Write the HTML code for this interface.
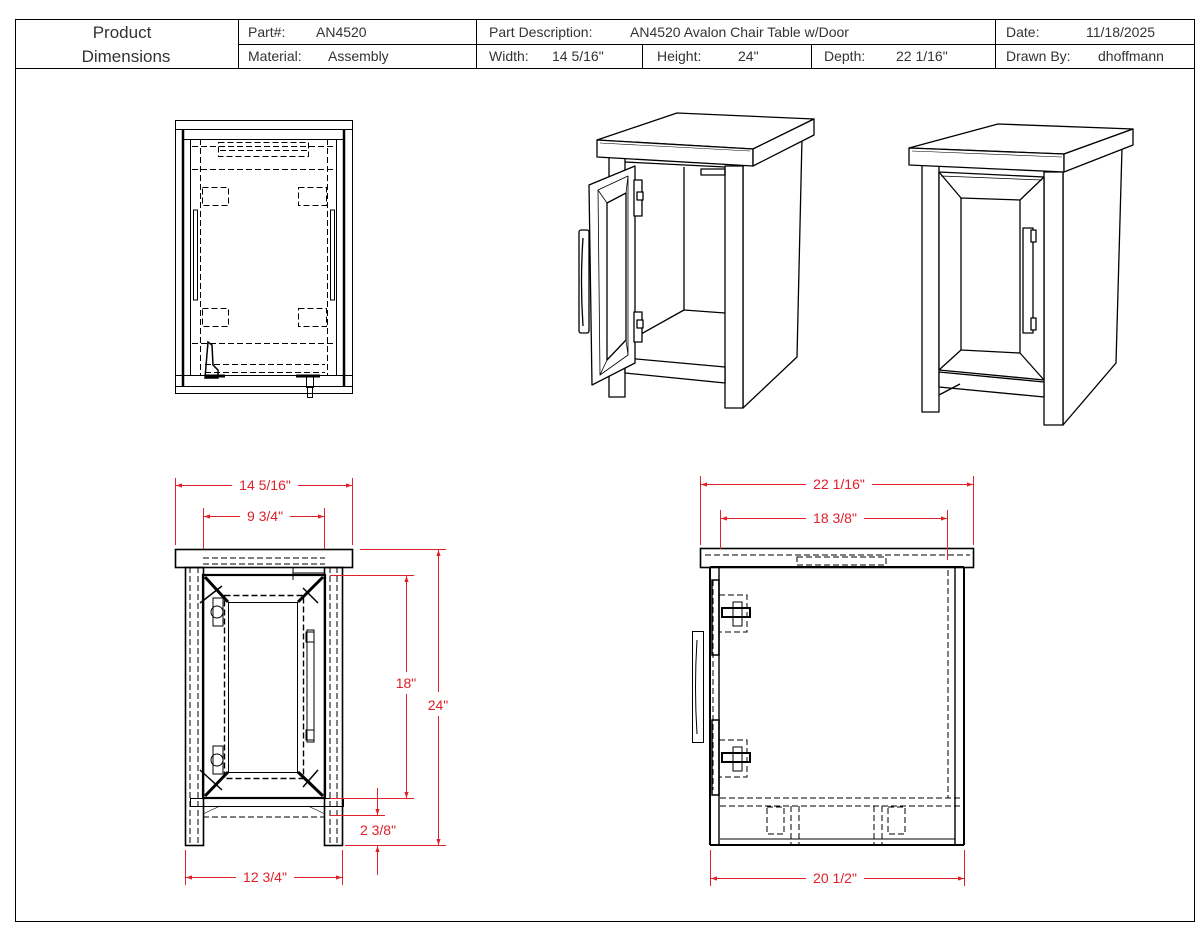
<!DOCTYPE html>
<html><head><meta charset="utf-8"><style>
html,body{margin:0;padding:0;background:#fff;}
svg{display:block;}
text{font-family:"Liberation Sans",sans-serif;}
</style></head><body>
<svg width="1204" height="934" viewBox="0 0 1204 934" xmlns="http://www.w3.org/2000/svg">
<defs>
<marker id="ar" viewBox="0 0 10 10" refX="10" refY="5" markerWidth="10" markerHeight="6" orient="auto-start-reverse" markerUnits="userSpaceOnUse"><path d="M0,1.5 L10,5 L0,8.5 z" fill="#e0202a"/></marker>
</defs>
<rect width="1204" height="934" fill="#fff"/>
<!-- frame -->
<g fill="none" stroke="#000" stroke-width="1">
<rect x="15.5" y="19.5" width="1179" height="902"/>
<line x1="15" y1="68.5" x2="1194" y2="68.5"/>
<line x1="238.5" y1="19" x2="238.5" y2="68"/>
<line x1="476.5" y1="19" x2="476.5" y2="68"/>
<line x1="995.5" y1="19" x2="995.5" y2="68"/>
<line x1="238" y1="44.5" x2="1194" y2="44.5"/>
<line x1="642.5" y1="44" x2="642.5" y2="68"/>
<line x1="811.5" y1="44" x2="811.5" y2="68"/>
</g>
<g font-size="14" fill="#333">
<text x="122" y="38" text-anchor="middle" font-size="17">Product</text>
<text x="126" y="62" text-anchor="middle" font-size="17">Dimensions</text>
<text x="248" y="37">Part#:</text><text x="316" y="37">AN4520</text>
<text x="248" y="61">Material:</text><text x="328" y="61">Assembly</text>
<text x="489" y="37">Part Description:</text><text x="630" y="37">AN4520 Avalon Chair Table w/Door</text>
<text x="489" y="61">Width:</text><text x="552" y="61">14 5/16"</text>
<text x="657" y="61">Height:</text><text x="738" y="61">24"</text>
<text x="824" y="61">Depth:</text><text x="896" y="61">22 1/16"</text>
<text x="1006" y="37">Date:</text><text x="1086" y="37">11/18/2025</text>
<text x="1006" y="61">Drawn By:</text><text x="1098" y="61">dhoffmann</text>
</g>

<!-- top view -->
<g fill="none" stroke="#000" stroke-width="1">
<rect x="175.5" y="120.5" width="177" height="273"/>
<line x1="175" y1="129.5" x2="353" y2="129.5"/>
<line x1="175" y1="375.5" x2="353" y2="375.5"/>
<line x1="175" y1="386.5" x2="353" y2="386.5"/>
<line x1="183" y1="129" x2="183" y2="387" stroke-width="2.5"/>
<line x1="344" y1="129" x2="344" y2="387" stroke-width="2.5"/>
<line x1="190.5" y1="139" x2="190.5" y2="375"/>
<line x1="336.5" y1="139" x2="336.5" y2="375"/>
<line x1="183" y1="139.5" x2="344" y2="139.5"/>
<g stroke-dasharray="6,3">
<line x1="200.5" y1="139" x2="200.5" y2="375"/>
<line x1="327.5" y1="139" x2="327.5" y2="375"/>
<line x1="192" y1="169.5" x2="336" y2="169.5"/>
<line x1="192" y1="343.5" x2="336" y2="343.5"/>
<line x1="192" y1="146.5" x2="336" y2="146.5"/>
<rect x="218.5" y="142.5" width="90" height="14"/>
<line x1="220" y1="150.5" x2="308" y2="150.5"/>
<rect x="202.5" y="187.5" width="26" height="18"/>
<rect x="298.5" y="187.5" width="28" height="18"/>
<rect x="202.5" y="308.5" width="26" height="18"/>
<rect x="298.5" y="308.5" width="28" height="18"/>
<line x1="205" y1="364.5" x2="325" y2="364.5"/>
<line x1="205" y1="372.5" x2="325" y2="372.5"/>
</g>
<rect x="193.5" y="210" width="4" height="90"/>
<rect x="330.5" y="210" width="4" height="90"/>
<path d="M208,342 L212,345 L213,365 L218,370 L218,378 L205,378 Z" stroke-width="1.5"/>
<path d="M205,376 h20 M296,376 h24" stroke-width="3"/>
<rect x="306.5" y="376.5" width="7" height="11"/>
<rect x="307.5" y="387.5" width="5" height="10"/>
</g>

<!-- iso 1 -->
<g fill="#fff" stroke="#000" stroke-width="1.3" stroke-linejoin="round">
<polygon points="743,166 802,138 797,357 743,408"/>
<polygon points="725,166 743,166 743,408 725,408"/>
<polygon points="609,157 625,157 625,397 609,397"/>
<polyline fill="none" points="625,162 725,167"/>
<polyline fill="none" points="684,167 684,310 725,313"/>
<polyline fill="none" points="684,310 625,343"/>
<rect x="701" y="169" width="24" height="6" fill="none"/>
<polygon points="625,358 725,367 725,383 625,373"/>
<polygon points="597,140 677,113 814,119 753,149"/>
<polygon points="597,140 753,149 753,166 597,157"/>
<polygon points="753,149 814,119 814,135 753,166"/>
<line x1="600" y1="143" x2="750" y2="151" stroke-width="0.6"/>
<polygon points="589,185 635,166 635,363 592,385"/>
<polygon points="598,190 628,176 628,355 600,375" fill="none" stroke-width="0.8"/>
<polygon points="607,203 626,193 626,340 607,360" fill="none"/>
<line x1="598" y1="190" x2="607" y2="203" stroke-width="0.8"/>
<line x1="628" y1="176" x2="626" y2="193" stroke-width="0.8"/>
<line x1="628" y1="355" x2="626" y2="340" stroke-width="0.8"/>
<line x1="600" y1="375" x2="607" y2="360" stroke-width="0.8"/>
<rect x="579" y="230" width="10" height="103" rx="2"/>
<path d="M583,238 Q580,282 583,326" fill="none"/>
<rect x="634" y="180" width="8" height="36"/>
<rect x="634" y="312" width="8" height="30"/>
<rect x="637" y="192" width="6" height="8"/>
<rect x="637" y="320" width="6" height="8"/>
</g>

<!-- iso 2 -->
<g fill="#fff" stroke="#000" stroke-width="1.3" stroke-linejoin="round">
<polygon points="1063,172 1122,148 1116,363 1063,425"/>
<polygon points="1044,172 1063,172 1063,425 1044,425"/>
<polygon points="922,165 939,165 939,412 922,412"/>
<polygon points="939,172 1044,177 1044,380 939,370"/>
<polygon points="961,198 1020,200 1020,353 961,350" fill="none"/>
<line x1="939" y1="172" x2="961" y2="198"/>
<line x1="1044" y1="177" x2="1020" y2="200"/>
<line x1="1044" y1="380" x2="1020" y2="353"/>
<line x1="939" y1="370" x2="961" y2="350"/>
<line x1="941" y1="176" x2="1042" y2="180" stroke-width="0.8"/>
<polygon points="939,372 1044,382 1044,397 939,387"/>
<line x1="939" y1="395" x2="960" y2="384"/>
<rect x="1023" y="228" width="10" height="105"/>
<rect x="1031" y="230" width="5" height="12"/>
<rect x="1031" y="318" width="5" height="12"/>
<polygon points="909,148 998,124 1133,129 1064,154"/>
<polygon points="909,148 1064,154 1064,172 909,165"/>
<polygon points="1064,154 1133,129 1133,145 1064,172"/>
<line x1="912" y1="151" x2="1062" y2="157" stroke-width="0.6"/>
</g>

<!-- front view -->
<g fill="none" stroke="#000" stroke-width="1">
<rect x="175.5" y="549.5" width="177" height="18" stroke-width="1.6"/>
<rect x="185.5" y="567.5" width="18" height="278" stroke-width="1.6"/>
<rect x="324.5" y="567.5" width="18" height="278" stroke-width="1.6"/>
<line x1="190" y1="567" x2="190" y2="846" stroke-dasharray="6,3"/>
<line x1="198" y1="567" x2="198" y2="846" stroke-dasharray="6,3"/>
<line x1="330" y1="567" x2="330" y2="846" stroke-dasharray="6,3"/>
<line x1="337" y1="567" x2="337" y2="846" stroke-dasharray="6,3"/>
<line x1="203" y1="558" x2="325" y2="558" stroke-dasharray="6,3"/>
<line x1="203" y1="564" x2="325" y2="564" stroke-dasharray="6,3"/>
<rect x="203" y="575" width="122" height="223" stroke-width="2.2"/>
<rect x="228.5" y="602.5" width="69" height="170"/>
<rect x="224.5" y="595.5" width="79" height="183" stroke-dasharray="6,3" stroke-width="1.4"/>
<path d="M205,577 L228,602 M323,577 L298,602 M323,796 L298,772 M205,796 L228,772" stroke-width="3"/>
<path d="M200,603 L222,586 M303,588 L318,603 M318,770 L303,787 M200,770 L222,790" stroke-width="1.5"/>
<rect x="307" y="630" width="7" height="112"/>
<rect x="306" y="632" width="8" height="10"/>
<rect x="306" y="730" width="8" height="10"/>
<rect x="213" y="598" width="10" height="28"/>
<rect x="213" y="746" width="10" height="28"/>
<circle cx="217" cy="612" r="6"/>
<circle cx="217" cy="760" r="6"/>
<rect x="190.5" y="798.5" width="153" height="8"/>
<line x1="203" y1="817" x2="325" y2="817" stroke-dasharray="6,3"/>
<line x1="203" y1="814" x2="220" y2="806" stroke-width="0.6"/>
<line x1="325" y1="814" x2="308" y2="806" stroke-width="0.6"/>
<line x1="325" y1="573" x2="293" y2="573"/>
<line x1="293" y1="567" x2="293" y2="580"/>
</g>

<!-- side view -->
<g fill="none" stroke="#000" stroke-width="1">
<rect x="700.5" y="548.5" width="273" height="19" stroke-width="1.6"/>
<line x1="710" y1="567" x2="710" y2="845" stroke-width="2"/>
<line x1="719" y1="567" x2="719" y2="845" stroke-width="1.4"/>
<line x1="955" y1="567" x2="955" y2="845" stroke-width="1.4"/>
<line x1="964" y1="567" x2="964" y2="845" stroke-width="2"/>
<line x1="710" y1="845" x2="964" y2="845" stroke-width="2"/>
<line x1="720" y1="839" x2="955" y2="839"/>
<line x1="710" y1="567" x2="964" y2="567" stroke-width="2"/>
<g stroke-dasharray="6,3">
<line x1="705" y1="555" x2="970" y2="555"/>
<rect x="797" y="557" width="89" height="8"/>
<line x1="948" y1="570" x2="948" y2="798"/>
<line x1="720" y1="798" x2="960" y2="798"/>
<line x1="720" y1="806" x2="960" y2="806"/>
<rect x="767" y="807" width="17" height="27"/>
<rect x="888" y="807" width="17" height="27"/>
<line x1="791" y1="806" x2="791" y2="845"/>
<line x1="799" y1="806" x2="799" y2="845"/>
<line x1="874" y1="806" x2="874" y2="845"/>
<line x1="882" y1="806" x2="882" y2="845"/>
<line x1="713" y1="580" x2="713" y2="790"/>
<rect x="719" y="595" width="28" height="37"/>
<rect x="719" y="740" width="28" height="37"/>
</g>
<rect x="692.5" y="631.5" width="11" height="111"/>
<path d="M697,640 Q694,687 697,734"/>
<rect x="712" y="580" width="7" height="75" stroke-width="1.5"/>
<rect x="712" y="720" width="7" height="75" stroke-width="1.5"/>
<rect x="722" y="608" width="28" height="9" stroke-width="2"/>
<rect x="722" y="753" width="28" height="9" stroke-width="2"/>
<rect x="733" y="602" width="9" height="24"/>
<rect x="733" y="747" width="9" height="24"/>
</g>

<!-- dimensions -->
<g stroke="#e0202a" stroke-width="1" fill="none">
<line x1="175.5" y1="478" x2="175.5" y2="545"/><line x1="352.5" y1="478" x2="352.5" y2="545"/>
<line x1="176" y1="485.5" x2="232" y2="485.5" marker-start="url(#ar)"/><line x1="298" y1="485.5" x2="352" y2="485.5" marker-end="url(#ar)"/>
<line x1="203.5" y1="508" x2="203.5" y2="549"/><line x1="324.5" y1="508" x2="324.5" y2="549"/>
<line x1="204" y1="516.5" x2="240" y2="516.5" marker-start="url(#ar)"/><line x1="290" y1="516.5" x2="324" y2="516.5" marker-end="url(#ar)"/>
<line x1="360" y1="549.5" x2="446" y2="549.5"/><line x1="345" y1="845.5" x2="446" y2="845.5"/>
<line x1="438.5" y1="550" x2="438.5" y2="692" marker-start="url(#ar)"/><line x1="438.5" y1="716" x2="438.5" y2="845" marker-end="url(#ar)"/>
<line x1="330" y1="575.5" x2="414" y2="575.5"/><line x1="330" y1="798.5" x2="414" y2="798.5"/>
<line x1="406.5" y1="576" x2="406.5" y2="672" marker-start="url(#ar)"/><line x1="406.5" y1="694" x2="406.5" y2="798" marker-end="url(#ar)"/>
<line x1="330" y1="815.5" x2="385" y2="815.5"/>
<line x1="377.5" y1="788" x2="377.5" y2="815" marker-end="url(#ar)"/>
<line x1="377.5" y1="875" x2="377.5" y2="846" marker-end="url(#ar)"/>
<line x1="185.5" y1="850" x2="185.5" y2="885"/><line x1="342.5" y1="850" x2="342.5" y2="885"/>
<line x1="186" y1="877.5" x2="236" y2="877.5" marker-start="url(#ar)"/><line x1="294" y1="877.5" x2="342" y2="877.5" marker-end="url(#ar)"/>
<line x1="700.5" y1="476" x2="700.5" y2="545"/><line x1="973.5" y1="476" x2="973.5" y2="545"/>
<line x1="701" y1="484.5" x2="806" y2="484.5" marker-start="url(#ar)"/><line x1="872" y1="484.5" x2="973" y2="484.5" marker-end="url(#ar)"/>
<line x1="720.5" y1="510" x2="720.5" y2="549"/><line x1="947.5" y1="510" x2="947.5" y2="560"/>
<line x1="721" y1="518.5" x2="806" y2="518.5" marker-start="url(#ar)"/><line x1="864" y1="518.5" x2="947" y2="518.5" marker-end="url(#ar)"/>
<line x1="710.5" y1="850" x2="710.5" y2="886"/><line x1="964.5" y1="850" x2="964.5" y2="886"/>
<line x1="711" y1="878.5" x2="806" y2="878.5" marker-start="url(#ar)"/><line x1="864" y1="878.5" x2="964" y2="878.5" marker-end="url(#ar)"/>
</g>
<g fill="#e0202a" font-size="14" text-anchor="middle">
<text x="265" y="490">14 5/16"</text>
<text x="265" y="521">9 3/4"</text>
<text x="438" y="710">24"</text>
<text x="406" y="688">18"</text>
<text x="378" y="835">2 3/8"</text>
<text x="265" y="882">12 3/4"</text>
<text x="839" y="489">22 1/16"</text>
<text x="835" y="523">18 3/8"</text>
<text x="835" y="883">20 1/2"</text>
</g>
</svg>
</body></html>
